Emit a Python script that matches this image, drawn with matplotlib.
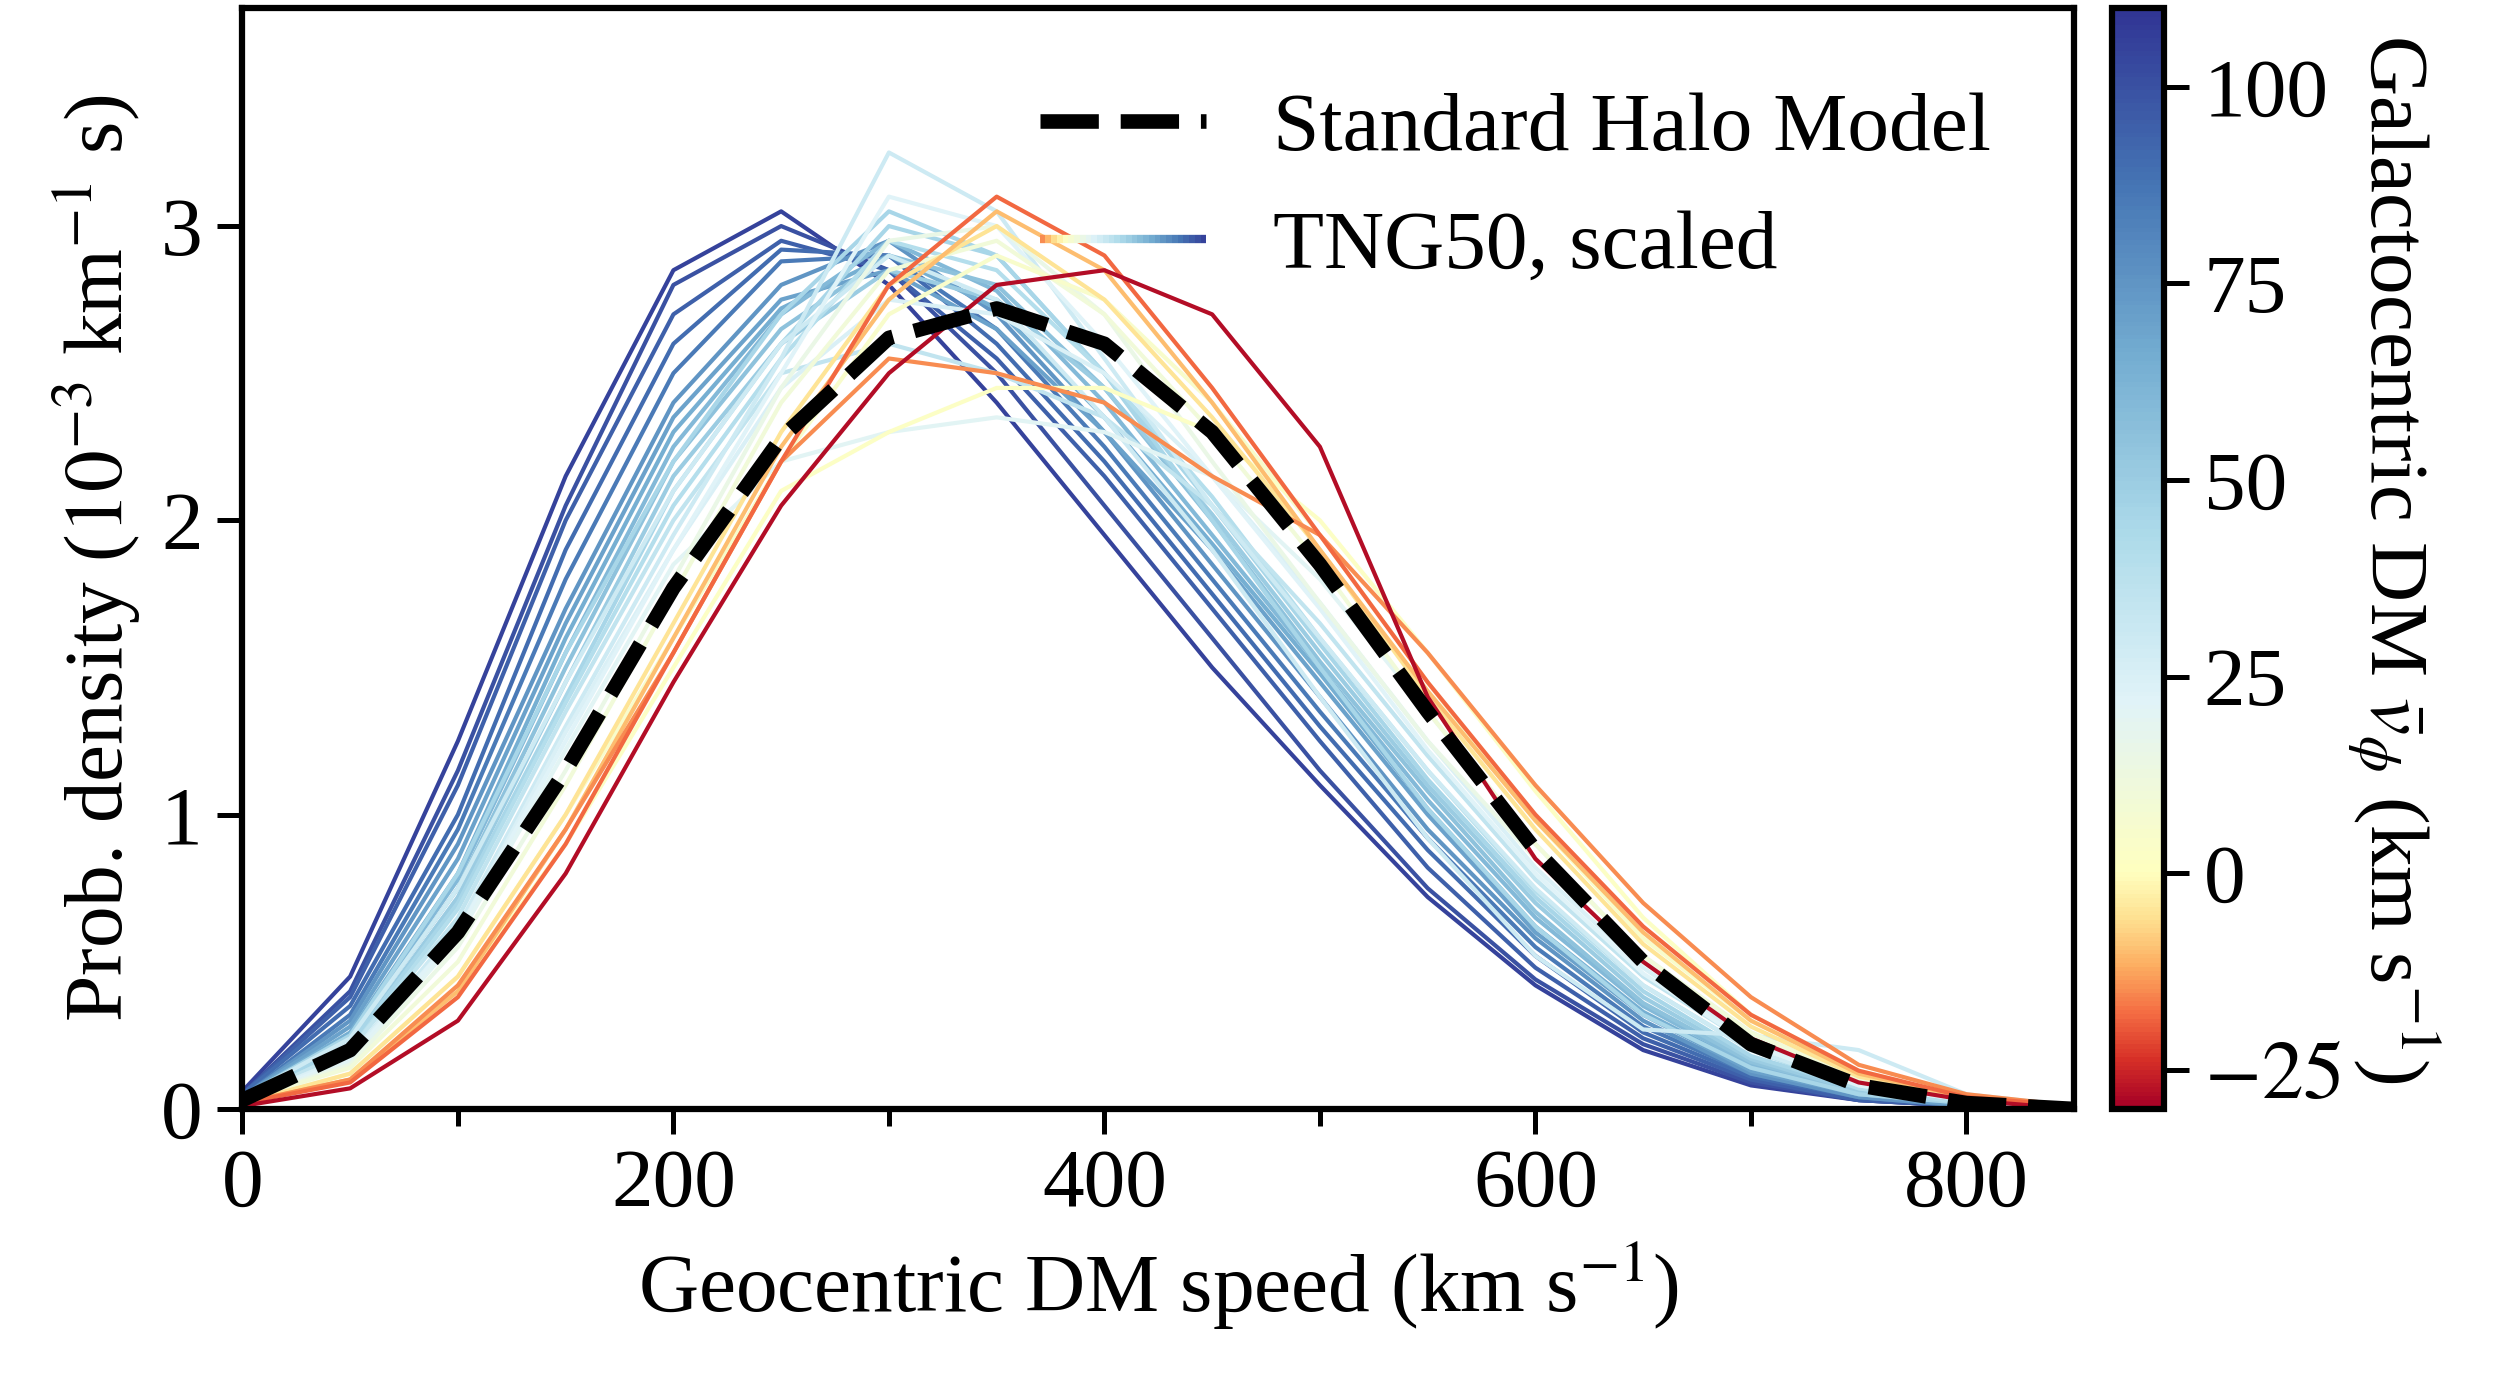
import numpy as np
import matplotlib
matplotlib.use("Agg")
import matplotlib.pyplot as plt
from matplotlib.colors import ListedColormap, Normalize, TwoSlopeNorm
from matplotlib.collections import LineCollection
from matplotlib.legend_handler import HandlerBase
from matplotlib.lines import Line2D

plt.rcParams['font.family'] = ['Liberation Serif', 'DejaVu Serif']
plt.rcParams['mathtext.fontset'] = 'stix'
plt.rcParams['font.size'] = 20

speed = [0, 50, 100, 150, 200, 250, 300, 350, 400, 450, 500, 550, 600, 650, 700, 750, 800, 850]
shm = [0.03, 0.2, 0.6, 1.15, 1.77, 2.28, 2.62, 2.72, 2.6, 2.3, 1.85, 1.35, 0.88, 0.5, 0.22, 0.08, 0.02, 0.0]

vphi = [105, 100, 95, 90, 85, 75, 70, 65, 60, 55, 50, 45, 40, 35, 30, 25, 22, 20, 15, 10, 5, 2, -5, -10, -15, -18, -28, 30, 45]
dens = [
 [0.06, 0.45, 1.25, 2.15, 2.85, 3.05, 2.8, 2.4, 1.95, 1.5, 1.1, 0.72, 0.42, 0.2, 0.08, 0.03, 0.01, 0.0],
 [0.05, 0.4, 1.15, 2.05, 2.8, 3.0, 2.85, 2.5, 2.05, 1.6, 1.15, 0.75, 0.44, 0.22, 0.09, 0.03, 0.01, 0.0],
 [0.05, 0.38, 1.1, 2.0, 2.7, 2.95, 2.85, 2.55, 2.15, 1.7, 1.25, 0.82, 0.48, 0.24, 0.1, 0.03, 0.01, 0.0],
 [0.05, 0.35, 1.0, 1.9, 2.6, 2.92, 2.9, 2.6, 2.2, 1.75, 1.3, 0.88, 0.52, 0.26, 0.11, 0.04, 0.01, 0.0],
 [0.04, 0.32, 0.95, 1.8, 2.5, 2.88, 2.9, 2.65, 2.25, 1.8, 1.35, 0.92, 0.55, 0.28, 0.12, 0.04, 0.01, 0.0],
 [0.04, 0.3, 0.9, 1.7, 2.4, 2.8, 2.95, 2.7, 2.3, 1.85, 1.4, 0.95, 0.58, 0.3, 0.12, 0.04, 0.01, 0.0],
 [0.04, 0.28, 0.85, 1.65, 2.35, 2.75, 2.85, 2.65, 2.3, 1.9, 1.45, 1.0, 0.6, 0.32, 0.13, 0.05, 0.01, 0.0],
 [0.04, 0.26, 0.8, 1.6, 2.3, 2.72, 2.9, 2.72, 2.35, 1.92, 1.48, 1.02, 0.62, 0.33, 0.14, 0.05, 0.02, 0.0],
 [0.04, 0.25, 0.78, 1.55, 2.25, 2.7, 2.95, 2.78, 2.4, 1.95, 1.5, 1.05, 0.65, 0.35, 0.15, 0.05, 0.02, 0.0],
 [0.04, 0.24, 0.75, 1.5, 2.2, 2.65, 2.9, 2.8, 2.45, 2.0, 1.52, 1.08, 0.67, 0.36, 0.16, 0.06, 0.02, 0.0],
 [0.04, 0.22, 0.72, 1.45, 2.15, 2.6, 2.85, 2.75, 2.45, 2.02, 1.55, 1.1, 0.7, 0.38, 0.17, 0.06, 0.02, 0.0],
 [0.03, 0.22, 0.7, 1.4, 2.1, 2.6, 3.0, 2.9, 2.5, 2.05, 1.58, 1.12, 0.72, 0.4, 0.18, 0.07, 0.02, 0.0],
 [0.03, 0.2, 0.68, 1.38, 2.05, 2.55, 2.95, 2.85, 2.5, 2.08, 1.6, 1.15, 0.74, 0.42, 0.2, 0.07, 0.02, 0.0],
 [0.03, 0.2, 0.65, 1.35, 2.0, 2.5, 2.6, 2.5, 2.35, 2.05, 1.65, 1.2, 0.78, 0.45, 0.22, 0.08, 0.03, 0.01],
 [0.03, 0.18, 0.62, 1.3, 1.95, 2.55, 3.25, 3.05, 2.55, 2.05, 1.6, 1.15, 0.75, 0.42, 0.2, 0.08, 0.03, 0.01],
 [0.03, 0.18, 0.6, 1.28, 1.9, 2.45, 2.75, 2.7, 2.5, 2.15, 1.72, 1.25, 0.82, 0.48, 0.23, 0.09, 0.03, 0.01],
 [0.03, 0.17, 0.6, 1.25, 1.9, 2.5, 3.1, 3.0, 2.6, 2.15, 1.7, 1.22, 0.8, 0.46, 0.22, 0.08, 0.03, 0.01],
 [0.03, 0.16, 0.58, 1.22, 1.85, 2.2, 2.3, 2.35, 2.3, 2.15, 1.8, 1.35, 0.9, 0.52, 0.26, 0.1, 0.03, 0.01],
 [0.03, 0.15, 0.55, 1.15, 1.8, 2.45, 2.95, 3.0, 2.7, 2.2, 1.72, 1.25, 0.85, 0.5, 0.25, 0.1, 0.03, 0.01],
 [0.03, 0.14, 0.5, 1.1, 1.75, 2.4, 2.85, 2.95, 2.7, 2.3, 1.85, 1.35, 0.9, 0.52, 0.26, 0.1, 0.03, 0.01],
 [0.02, 0.12, 0.45, 1.0, 1.6, 2.2, 2.7, 2.9, 2.75, 2.4, 1.95, 1.45, 0.98, 0.58, 0.3, 0.12, 0.04, 0.01],
 [0.02, 0.1, 0.4, 0.9, 1.5, 2.1, 2.3, 2.45, 2.45, 2.3, 2.0, 1.55, 1.08, 0.65, 0.32, 0.13, 0.04, 0.01],
 [0.02, 0.12, 0.45, 1.0, 1.65, 2.3, 2.8, 3.0, 2.75, 2.35, 1.9, 1.4, 0.95, 0.56, 0.28, 0.11, 0.04, 0.01],
 [0.02, 0.1, 0.4, 0.95, 1.6, 2.25, 2.75, 3.05, 2.85, 2.4, 1.9, 1.42, 0.98, 0.6, 0.3, 0.12, 0.04, 0.01],
 [0.02, 0.1, 0.42, 0.95, 1.55, 2.2, 2.55, 2.5, 2.4, 2.15, 1.95, 1.55, 1.1, 0.7, 0.38, 0.15, 0.05, 0.01],
 [0.02, 0.09, 0.38, 0.9, 1.55, 2.2, 2.8, 3.1, 2.9, 2.45, 1.95, 1.45, 1.0, 0.62, 0.32, 0.13, 0.04, 0.01],
 [0.01, 0.07, 0.3, 0.8, 1.45, 2.05, 2.5, 2.8, 2.85, 2.7, 2.25, 1.4, 0.85, 0.5, 0.24, 0.09, 0.03, 0.0],
 [0.04, 0.24, 0.75, 1.45, 2.1, 2.6, 2.9, 2.75, 2.35, 1.9, 1.4, 0.92, 0.52, 0.27, 0.25, 0.2, 0.05, 0.01],
 [0.04, 0.25, 0.8, 1.55, 2.2, 2.7, 3.05, 2.9, 2.5, 2.0, 1.5, 1.02, 0.62, 0.32, 0.14, 0.05, 0.02, 0.0],
]

vmin, vmax = -30, 110
tsn = TwoSlopeNorm(vmin=vmin, vcenter=0, vmax=vmax)
vals = np.linspace(vmin, vmax, 256)
cmap = ListedColormap(plt.get_cmap('RdYlBu')(tsn(vals)))
norm = Normalize(vmin, vmax)

fig = plt.figure(figsize=(2499/300, 1381/300), dpi=300)
ax = fig.add_axes([0.097, 0.197, 0.733, 0.797])
cax = fig.add_axes([0.845, 0.197, 0.021, 0.797])

order = np.argsort(vphi)[::-1]
for i in order:
    ax.plot(speed, dens[i], color=cmap(norm(vphi[i])), lw=1.0)
ax.plot(speed, shm, color='k', lw=3.5, dashes=(4, 1.5))

ax.set_xlim(0, 850)
ax.set_ylim(0, 3.74)
ax.set_xticks([0, 200, 400, 600, 800])
ax.set_xticks([100, 300, 500, 700], minor=True)
ax.set_yticks([0, 1, 2, 3])
ax.tick_params(direction='out', length=6, width=1.2)
ax.tick_params(which='minor', length=4, width=1.2)
for s in ax.spines.values():
    s.set_linewidth(1.5)
ax.set_xlabel('Geocentric DM speed (km s$^{-1}$)')
ax.set_ylabel('Prob. density ($10^{-3}$ km$^{-1}$ s)')

class GradHandler(HandlerBase):
    def create_artists(self, legend, orig, xd, yd, w, h, fontsize, trans):
        x = np.linspace(0, w, 30) - xd
        y = np.full_like(x, h / 2 - yd)
        pts = np.array([x, y]).T.reshape(-1, 1, 2)
        segs = np.concatenate([pts[:-1], pts[1:]], axis=1)
        lc = LineCollection(segs, cmap=cmap, norm=norm, transform=trans, lw=2)
        lc.set_array(np.linspace(-15, 105, len(segs)))
        return [lc]

h1 = Line2D([], [], color='k', lw=3.5, dashes=(4, 1.5))
h2 = Line2D([], [])
ax.legend([h1, h2], ['Standard Halo Model', 'TNG50, scaled'], loc='upper right',
          frameon=False, handler_map={h2: GradHandler()}, handlelength=2.0,
          borderaxespad=0.6)

sm = plt.cm.ScalarMappable(norm=norm, cmap=cmap)
cb = fig.colorbar(sm, cax=cax)
cb.set_ticks([-25, 0, 25, 50, 75, 100])
cb.set_ticklabels(['$-25$', '0', '25', '50', '75', '100'])
cb.ax.tick_params(length=6, width=1.2)
cb.outline.set_linewidth(1.5)
cb.set_label(r'Galactocentric DM $\bar{v}_\phi$ (km s$^{-1}$)', rotation=270, labelpad=24)

fig.savefig('out.png', dpi=300)
